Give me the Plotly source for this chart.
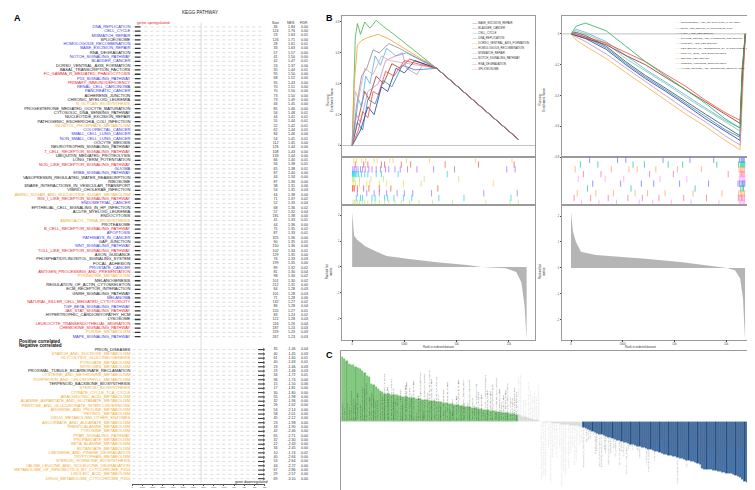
import plotly.graph_objects as go

W, H = 755, 490
FONT = "Liberation Sans, Arial, sans-serif"

# ---------------- panel A : KEGG pathways (GSEA table) ----------------
pos_pathways = [
    "DNA_REPLICATION", "CELL_CYCLE", "MISMATCH_REPAIR", "SPLICEOSOME",
    "HOMOLOGOUS_RECOMBINATION", "BASE_EXCISION_REPAIR", "RNA_DEGRADATION",
    "NOTCH_SIGNALING_PATHWAY", "BLADDER_CANCER", "DORSO_VENTRAL_AXIS_FORMATION",
    "BASAL_TRANSCRIPTION_FACTORS", "FC_GAMMA_R_MEDIATED_PHAGOCYTOSIS",
    "P53_SIGNALING_PATHWAY", "PRIMARY_IMMUNODEFICIENCY", "RENAL_CELL_CARCINOMA",
    "PANCREATIC_CANCER", "ADHERENS_JUNCTION", "CHRONIC_MYELOID_LEUKEMIA",
    "N_GLYCAN_BIOSYNTHESIS", "PROGESTERONE_MEDIATED_OOCYTE_MATURATION",
    "CYTOSOLIC_DNA_SENSING_PATHWAY", "NUCLEOTIDE_EXCISION_REPAIR",
    "PATHOGENIC_ESCHERICHIA_COLI_INFECTION", "INOSITOL_PHOSPHATE_METABOLISM",
    "COLORECTAL_CANCER", "SMALL_CELL_LUNG_CANCER", "NON_SMALL_CELL_LUNG_CANCER",
    "OOCYTE_MEIOSIS", "NEUROTROPHIN_SIGNALING_PATHWAY",
    "T_CELL_RECEPTOR_SIGNALING_PATHWAY", "UBIQUITIN_MEDIATED_PROTEOLYSIS",
    "LONG_TERM_POTENTIATION", "NOD_LIKE_RECEPTOR_SIGNALING_PATHWAY", "GLIOMA",
    "ERBB_SIGNALING_PATHWAY", "VASOPRESSIN_REGULATED_WATER_REABSORPTION",
    "RIBOSOME", "SNARE_INTERACTIONS_IN_VESICULAR_TRANSPORT",
    "VIBRIO_CHOLERAE_INFECTION", "AMINO_SUGAR_AND_NUCLEOTIDE_SUGAR_METABOLISM",
    "RIG_I_LIKE_RECEPTOR_SIGNALING_PATHWAY", "ENDOMETRIAL_CANCER",
    "EPITHELIAL_CELL_SIGNALING_IN_HP_INFECTION", "ACUTE_MYELOID_LEUKEMIA",
    "ENDOCYTOSIS", "AMINOACYL_TRNA_BIOSYNTHESIS", "PROTEASOME",
    "B_CELL_RECEPTOR_SIGNALING_PATHWAY", "APOPTOSIS", "PATHWAYS_IN_CANCER",
    "GAP_JUNCTION", "WNT_SIGNALING_PATHWAY", "TOLL_LIKE_RECEPTOR_SIGNALING_PATHWAY",
    "AXON_GUIDANCE", "PHOSPHATIDYLINOSITOL_SIGNALING_SYSTEM", "FOCAL_ADHESION",
    "PROSTATE_CANCER", "ANTIGEN_PROCESSING_AND_PRESENTATION",
    "PYRIMIDINE_METABOLISM", "MELANOGENESIS", "REGULATION_OF_ACTIN_CYTOSKELETON",
    "ECM_RECEPTOR_INTERACTION", "GNRH_SIGNALING_PATHWAY", "MELANOMA",
    "NATURAL_KILLER_CELL_MEDIATED_CYTOTOXICITY", "TGF_BETA_SIGNALING_PATHWAY",
    "JAK_STAT_SIGNALING_PATHWAY", "HYPERTROPHIC_CARDIOMYOPATHY_HCM", "LYSOSOME",
    "LEUKOCYTE_TRANSENDOTHELIAL_MIGRATION", "CHEMOKINE_SIGNALING_PATHWAY",
    "PURINE_METABOLISM", "MAPK_SIGNALING_PATHWAY",
]
pos_size = [36, 124, 23, 126, 28, 33, 57, 41, 42, 24, 35, 95, 68, 35, 70, 70, 73, 73,
            46, 85, 56, 44, 55, 52, 62, 84, 54, 112, 126, 108, 133, 66, 56, 65, 87,
            44, 87, 38, 54, 44, 71, 52, 68, 57, 181, 41, 44, 75, 87, 325, 90, 150,
            102, 129, 76, 199, 89, 81, 98, 101, 212, 84, 101, 71, 132, 86, 155, 83,
            121, 116, 187, 159, 267]
pos_nes = [1.84, 1.76, 1.63, 1.71, 1.61, 1.63, 1.57, 1.50, 1.47, 1.37, 1.44, 1.50,
           1.52, 1.43, 1.51, 1.50, 1.50, 1.49, 1.45, 1.46, 1.48, 1.41, 1.44, 1.42,
           1.44, 1.46, 1.41, 1.45, 1.44, 1.43, 1.44, 1.40, 1.38, 1.38, 1.40, 1.34,
           1.36, 1.31, 1.35, 1.38, 1.37, 1.33, 1.36, 1.32, 1.38, 1.33, 1.36, 1.35,
           1.33, 1.36, 1.35, 1.36, 1.34, 1.35, 1.33, 1.35, 1.32, 1.30, 1.30, 1.30,
           1.31, 1.28, 1.28, 1.28, 1.27, 1.28, 1.27, 1.24, 1.28, 1.26, 1.24, 1.23, 1.23]
pos_fdr = [0.00, 0.00, 0.01, 0.00, 0.01, 0.00, 0.00, 0.00, 0.01, 0.00, 0.01, 0.00,
           0.00, 0.00, 0.00, 0.00, 0.00, 0.00, 0.00, 0.00, 0.01, 0.01, 0.01, 0.01,
           0.01, 0.00, 0.01, 0.00, 0.00, 0.00, 0.00, 0.01, 0.01, 0.01, 0.00, 0.00,
           0.00, 0.06, 0.03, 0.00, 0.02, 0.04, 0.02, 0.04, 0.00, 0.01, 0.00, 0.02,
           0.01, 0.00, 0.01, 0.00, 0.01, 0.00, 0.03, 0.00, 0.02, 0.04, 0.02, 0.02,
           0.00, 0.03, 0.03, 0.06, 0.02, 0.04, 0.01, 0.02, 0.03, 0.04, 0.03, 0.03, 0.03]
# b = blue, k = black, r = red, o = orange label colour classes
pos_group = list("bbbkbbkbbk" "krbrbbkkok" "kkkobbbkkr" "kkrbbkkkko"
                 "rbkkkokrbb" "kbrkkkbrok" "kkkbrbrkkr" "rob")

neg_pathways = [
    "PRION_DISEASES", "STARCH_AND_SUCROSE_METABOLISM", "GLYCOLYSIS_GLUCONEOGENESIS",
    "PYRUVATE_METABOLISM", "NITROGEN_METABOLISM",
    "PROXIMAL_TUBULE_BICARBONATE_RECLAMATION", "CYSTEINE_AND_METHIONINE_METABOLISM",
    "PORPHYRIN_AND_CHLOROPHYLL_METABOLISM", "TERPENOID_BACKBONE_BIOSYNTHESIS",
    "STEROID_BIOSYNTHESIS", "CITRATE_CYCLE_TCA_CYCLE", "ARACHIDONIC_ACID_METABOLISM",
    "ALANINE_ASPARTATE_AND_GLUTAMATE_METABOLISM",
    "PENTOSE_AND_GLUCURONATE_INTERCONVERSIONS", "ARGININE_AND_PROLINE_METABOLISM",
    "RETINOL_METABOLISM", "DRUG_METABOLISM_OTHER_ENZYMES",
    "ASCORBATE_AND_ALDARATE_METABOLISM", "PHENYLALANINE_METABOLISM",
    "TYROSINE_METABOLISM", "PPAR_SIGNALING_PATHWAY", "PROPANOATE_METABOLISM",
    "BETA_ALANINE_METABOLISM", "BUTANOATE_METABOLISM",
    "LIMONENE_AND_PINENE_DEGRADATION", "TRYPTOPHAN_METABOLISM",
    "STEROID_HORMONE_BIOSYNTHESIS", "VALINE_LEUCINE_AND_ISOLEUCINE_DEGRADATION",
    "METABOLISM_OF_XENOBIOTICS_BY_CYTOCHROME_P450", "LINOLEIC_ACID_METABOLISM",
    "DRUG_METABOLISM_CYTOCHROME_P450",
]
neg_size = [35, 40, 61, 40, 23, 23, 34, 36, 15, 17, 30, 55, 32, 26, 54, 58, 45, 23,
            18, 42, 65, 32, 22, 34, 10, 40, 53, 44, 67, 29, 69]
neg_nes = [-1.46, -1.45, -1.60, -1.63, -1.46, -1.46, -1.72, -1.74, -1.50, -1.81,
           -1.80, -1.98, -1.96, -1.62, -2.14, -2.01, -2.12, -1.98, -1.90, -2.46,
           -2.71, -2.30, -2.43, -2.45, -1.74, -2.64, -2.64, -2.72, -2.86, -2.57, -3.10]
neg_fdr = [0.04, 0.03, 0.01, 0.01, 0.03, 0.03, 0.01, 0.00, 0.06, 0.00, 0.00, 0.00,
           0.00, 0.00, 0.00, 0.00, 0.00, 0.00, 0.00, 0.00, 0.00, 0.00, 0.00, 0.00,
           0.02, 0.00, 0.00, 0.00, 0.00, 0.00, 0.00]
neg_group = list("k" "oooo" "k" "oo" "k" "oooooooooooooooooooooo")

rank_ticks_a = list(range(0, 13001, 1000))

# ---------------- panel B : GSEA running scores ----------------
up_sets = ["BASE_EXCISION_REPAIR", "BLADDER_CANCER", "CELL_CYCLE", "DNA_REPLICATION",
           "DORSO_VENTRAL_AXIS_FORMATION", "HOMOLOGOUS_RECOMBINATION",
           "MISMATCH_REPAIR", "NOTCH_SIGNALING_PATHWAY", "RNA_DEGRADATION",
           "SPLICEOSOME"]
up_rank = {
    "BASE_EXCISION_REPAIR": [0, 700, 1200, 1600, 2300, 3000, 3800, 4600, 5500, 8090, 15900],
    "BLADDER_CANCER": [0, 500, 1000, 1500, 2200, 3000, 3800, 4800, 6000, 8090, 15900],
    "CELL_CYCLE": [0, 300, 600, 900, 1300, 1700, 2200, 2700, 3300, 4200, 5200, 8090, 15900],
    "DNA_REPLICATION": [0, 150, 300, 500, 800, 1200, 1700, 2300, 3000, 4000, 8090, 15900],
    "DORSO_VENTRAL_AXIS_FORMATION": [0, 200, 500, 900, 1500, 2500, 3500, 8090, 15900],
    "HOMOLOGOUS_RECOMBINATION": [0, 400, 800, 1500, 2500, 3200, 4800, 5200, 6200, 7000, 8090, 15900],
    "MISMATCH_REPAIR": [0, 300, 600, 1200, 2000, 2800, 3600, 8090, 15900],
    "NOTCH_SIGNALING_PATHWAY": [0, 800, 1500, 2100, 2800, 3400, 4200, 5000, 6000, 8090, 15900],
    "RNA_DEGRADATION": [0, 600, 1000, 1500, 2000, 2500, 3200, 4000, 5000, 8090, 15900],
    "SPLICEOSOME": [0, 400, 900, 1400, 2000, 2600, 3500, 4500, 8090, 15900],
}
up_es = {
    "BASE_EXCISION_REPAIR": [0, 0.20, 0.35, 0.30, 0.45, 0.40, 0.53, 0.50, 0.56, 0.50, 0.04],
    "BLADDER_CANCER": [0, 0.15, 0.10, 0.30, 0.27, 0.42, 0.38, 0.52, 0.49, 0.50, 0.04],
    "CELL_CYCLE": [0, 0.15, 0.30, 0.25, 0.45, 0.40, 0.58, 0.52, 0.63, 0.58, 0.60, 0.50, 0.04],
    "DNA_REPLICATION": [0, 0.30, 0.70, 0.79, 0.72, 0.80, 0.76, 0.81, 0.77, 0.72, 0.50, 0.04],
    "DORSO_VENTRAL_AXIS_FORMATION": [0, 0.40, 0.65, 0.68, 0.70, 0.72, 0.69, 0.50, 0.04],
    "HOMOLOGOUS_RECOMBINATION": [0, 0.20, 0.15, 0.35, 0.40, 0.55, 0.60, 0.50, 0.46, 0.55, 0.50, 0.04],
    "MISMATCH_REPAIR": [0, 0.35, 0.30, 0.50, 0.46, 0.58, 0.55, 0.50, 0.04],
    "NOTCH_SIGNALING_PATHWAY": [0, 0.10, 0.25, 0.20, 0.38, 0.35, 0.50, 0.47, 0.55, 0.50, 0.04],
    "RNA_DEGRADATION": [0, 0.10, 0.22, 0.18, 0.35, 0.33, 0.48, 0.45, 0.55, 0.50, 0.04],
    "SPLICEOSOME": [0, 0.25, 0.45, 0.50, 0.62, 0.60, 0.66, 0.63, 0.50, 0.04],
}
up_hits = {
    "BASE_EXCISION_REPAIR": [150, 420, 900, 1300, 2100, 2400, 3600, 3900, 5200, 7400, 11800, 15300],
    "BLADDER_CANCER": [300, 1100, 1500, 2800, 3100, 4700, 5600, 8900, 12100, 15500],
    "CELL_CYCLE": [60, 200, 380, 560, 800, 1000, 1250, 1600, 1900, 2300, 2700, 3200, 3500,
                   4100, 4600, 5300, 6200, 7800, 9800, 14800, 15600],
    "DNA_REPLICATION": [20, 60, 110, 170, 240, 330, 450, 600, 900, 1200, 1500, 2300, 2800, 4400, 9100],
    "DORSO_VENTRAL_AXIS_FORMATION": [40, 120, 260, 700, 1800, 3000, 6900, 10200],
    "HOMOLOGOUS_RECOMBINATION": [100, 300, 700, 1400, 1700, 2600, 3300, 4900, 6600, 13500],
    "MISMATCH_REPAIR": [30, 90, 230, 500, 1100, 1600, 2600, 3700, 8200],
    "NOTCH_SIGNALING_PATHWAY": [500, 1400, 2100, 2600, 3300, 4300, 5000, 5800, 7600, 12600, 15800],
    "RNA_DEGRADATION": [400, 800, 1000, 1900, 2200, 3100, 3400, 4000, 4900, 5700, 8300, 10700, 15200],
    "SPLICEOSOME": [80, 210, 350, 520, 700, 950, 1200, 1500, 1850, 2200, 2600, 3100, 3500,
                    4100, 4700, 5500, 6400, 7700, 9600, 12800, 15100, 15900],
}
up_metric_rank = [0, 190, 480, 1250, 2300, 3300, 5300, 8100, 11000, 12400, 14700, 15700, 16200, 16500, 16700]
up_metric_val = [2.1, 1.2, 1.05, 0.8, 0.6, 0.42, 0.32, 0.18, 0.07, 0.0, -0.05, -0.2, -0.6, -1.5, -2.8]

down_sets = ["COMPLEMENT_AND_COAGULATION_CASCADES", "DRUG_METABOLISM_CYTOCHROME_P450",
             "FATTY_ACID_METABOLISM", "GLYCINE_SERINE_AND_THREONINE_METABOLISM",
             "LINOLEIC_ACID_METABOLISM", "METABOLISM_OF_XENOBIOTICS_BY_CYTOCHROME_P450",
             "PRIMARY_BILE_ACID_BIOSYNTHESIS", "RETINOL_METABOLISM",
             "STEROID_HORMONE_BIOSYNTHESIS", "VALINE_LEUCINE_AND_ISOLEUCINE_DEGRADATION"]
down_rank = [0, 500, 1400, 3400, 5300, 7200, 9100, 11100, 13000, 14900, 16350, 16550, 16850]
down_es = {
    "COMPLEMENT_AND_COAGULATION_CASCADES": [0, 0.02, 0.0, -0.06, -0.16, -0.24, -0.32, -0.41, -0.49, -0.57, -0.63, -0.30, 0],
    "DRUG_METABOLISM_CYTOCHROME_P450": [0, -0.01, -0.03, -0.10, -0.20, -0.29, -0.37, -0.46, -0.55, -0.63, -0.69, -0.35, 0],
    "FATTY_ACID_METABOLISM": [0, 0.01, -0.01, -0.08, -0.18, -0.27, -0.35, -0.44, -0.52, -0.60, -0.66, -0.30, 0],
    "GLYCINE_SERINE_AND_THREONINE_METABOLISM": [0, 0.03, 0.01, -0.05, -0.14, -0.23, -0.31, -0.40, -0.48, -0.56, -0.61, -0.28, 0],
    "LINOLEIC_ACID_METABOLISM": [0, 0.0, -0.02, -0.09, -0.19, -0.28, -0.36, -0.45, -0.53, -0.62, -0.67, -0.32, 0],
    "METABOLISM_OF_XENOBIOTICS_BY_CYTOCHROME_P450": [0, -0.04, -0.08, -0.16, -0.25, -0.34, -0.43, -0.52, -0.60, -0.69, -0.75, -0.40, 0],
    "PRIMARY_BILE_ACID_BIOSYNTHESIS": [0, -0.02, -0.05, -0.13, -0.22, -0.31, -0.40, -0.49, -0.57, -0.66, -0.72, -0.36, 0],
    "RETINOL_METABOLISM": [0, -0.01, -0.03, -0.07, -0.14, -0.20, -0.28, -0.36, -0.44, -0.52, -0.58, -0.27, 0],
    "STEROID_HORMONE_BIOSYNTHESIS": [0, 0.0, -0.02, -0.06, -0.12, -0.18, -0.26, -0.34, -0.43, -0.51, -0.56, -0.25, 0],
    "VALINE_LEUCINE_AND_ISOLEUCINE_DEGRADATION": [0, 0.05, 0.07, 0.02, -0.08, -0.18, -0.27, -0.36, -0.45, -0.55, -0.61, -0.22, 0],
}
down_hits = {
    "COMPLEMENT_AND_COAGULATION_CASCADES": [1800, 4500, 5300, 8900, 11500, 13800, 16300, 16450, 16550, 16650, 16750],
    "DRUG_METABOLISM_CYTOCHROME_P450": [900, 2600, 6000, 7100, 9400, 10800, 14100, 16200, 16380, 16500, 16600, 16700, 16800],
    "FATTY_ACID_METABOLISM": [400, 3900, 5600, 6400, 8200, 10300, 12600, 16250, 16400, 16520, 16640, 16760],
    "GLYCINE_SERINE_AND_THREONINE_METABOLISM": [1200, 2900, 7600, 9900, 15200, 16350, 16500, 16620, 16740],
    "LINOLEIC_ACID_METABOLISM": [700, 3300, 5100, 8600, 11200, 16280, 16420, 16560, 16700, 16820],
    "METABOLISM_OF_XENOBIOTICS_BY_CYTOCHROME_P450": [2100, 4800, 6800, 8000, 10500, 13300, 16150, 16300, 16450, 16580, 16700, 16800],
    "PRIMARY_BILE_ACID_BIOSYNTHESIS": [1600, 5800, 12000, 16400, 16550, 16680],
    "RETINOL_METABOLISM": [600, 2400, 4100, 6200, 7400, 9100, 11800, 14600, 16220, 16370, 16500, 16640, 16780],
    "STEROID_HORMONE_BIOSYNTHESIS": [300, 1900, 3600, 5500, 6900, 8500, 10900, 13100, 16180, 16330, 16480, 16610, 16750],
    "VALINE_LEUCINE_AND_ISOLEUCINE_DEGRADATION": [1000, 2700, 4400, 6600, 7900, 9700, 11600, 14300, 16260, 16400, 16530, 16660, 16790],
}
down_metric_rank = [0, 190, 480, 960, 2400, 4130, 7200, 10580, 13000, 15100, 15870, 16350, 16630, 16830]
down_metric_val = [2.15, 1.4, 1.0, 0.62, 0.5, 0.45, 0.35, 0.23, 0.12, 0.0, -0.1, -0.4, -1.2, -2.8]

# ---------------- panel C : pathway score bars ----------------
other_pathways = [
    "PENTOSE_PHOSPHATE_PATHWAY", "FRUCTOSE_AND_MANNOSE_METABOLISM", "GALACTOSE_METABOLISM",
    "FATTY_ACID_METABOLISM", "PRIMARY_BILE_ACID_BIOSYNTHESIS", "OXIDATIVE_PHOSPHORYLATION",
    "GLYCINE_SERINE_AND_THREONINE_METABOLISM", "VALINE_LEUCINE_AND_ISOLEUCINE_BIOSYNTHESIS",
    "LYSINE_DEGRADATION", "HISTIDINE_METABOLISM", "TAURINE_AND_HYPOTAURINE_METABOLISM",
    "SELENOAMINO_ACID_METABOLISM", "GLUTATHIONE_METABOLISM", "OTHER_GLYCAN_DEGRADATION",
    "O_GLYCAN_BIOSYNTHESIS", "GLYCOSAMINOGLYCAN_DEGRADATION",
    "GLYCOSAMINOGLYCAN_BIOSYNTHESIS_CHONDROITIN_SULFATE",
    "GLYCOSAMINOGLYCAN_BIOSYNTHESIS_KERATAN_SULFATE",
    "GLYCOSAMINOGLYCAN_BIOSYNTHESIS_HEPARAN_SULFATE", "GLYCEROLIPID_METABOLISM",
    "GLYCOSYLPHOSPHATIDYLINOSITOL_GPI_ANCHOR_BIOSYNTHESIS", "GLYCEROPHOSPHOLIPID_METABOLISM",
    "ETHER_LIPID_METABOLISM", "ALPHA_LINOLENIC_ACID_METABOLISM", "SPHINGOLIPID_METABOLISM",
    "GLYCOSPHINGOLIPID_BIOSYNTHESIS_LACTO_AND_NEOLACTO_SERIES",
    "GLYCOSPHINGOLIPID_BIOSYNTHESIS_GLOBO_SERIES",
    "GLYCOSPHINGOLIPID_BIOSYNTHESIS_GANGLIO_SERIES",
    "GLYOXYLATE_AND_DICARBOXYLATE_METABOLISM", "ONE_CARBON_POOL_BY_FOLATE",
    "RIBOFLAVIN_METABOLISM", "NICOTINATE_AND_NICOTINAMIDE_METABOLISM",
    "PANTOTHENATE_AND_COA_BIOSYNTHESIS", "FOLATE_BIOSYNTHESIS", "SULFUR_METABOLISM",
    "BIOSYNTHESIS_OF_UNSATURATED_FATTY_ACIDS", "ABC_TRANSPORTERS", "RNA_POLYMERASE",
    "PROTEIN_EXPORT", "PEROXISOME", "NON_HOMOLOGOUS_END_JOINING",
    "CALCIUM_SIGNALING_PATHWAY", "CYTOKINE_CYTOKINE_RECEPTOR_INTERACTION",
    "NEUROACTIVE_LIGAND_RECEPTOR_INTERACTION", "REGULATION_OF_AUTOPHAGY",
    "CARDIAC_MUSCLE_CONTRACTION", "VASCULAR_SMOOTH_MUSCLE_CONTRACTION",
    "HEDGEHOG_SIGNALING_PATHWAY", "VEGF_SIGNALING_PATHWAY", "CELL_ADHESION_MOLECULES_CAMS",
    "TIGHT_JUNCTION", "COMPLEMENT_AND_COAGULATION_CASCADES", "HEMATOPOIETIC_CELL_LINEAGE",
    "FC_EPSILON_RI_SIGNALING_PATHWAY", "INTESTINAL_IMMUNE_NETWORK_FOR_IGA_PRODUCTION",
    "CIRCADIAN_RHYTHM_MAMMAL", "LONG_TERM_DEPRESSION", "OLFACTORY_TRANSDUCTION",
    "TASTE_TRANSDUCTION", "INSULIN_SIGNALING_PATHWAY", "ADIPOCYTOKINE_SIGNALING_PATHWAY",
    "TYPE_II_DIABETES_MELLITUS", "TYPE_I_DIABETES_MELLITUS",
    "MATURITY_ONSET_DIABETES_OF_THE_YOUNG", "ALDOSTERONE_REGULATED_SODIUM_REABSORPTION",
    "ALZHEIMERS_DISEASE", "PARKINSONS_DISEASE", "AMYOTROPHIC_LATERAL_SCLEROSIS_ALS",
    "HUNTINGTONS_DISEASE", "LEISHMANIA_INFECTION", "THYROID_CANCER", "BASAL_CELL_CARCINOMA",
    "ASTHMA", "AUTOIMMUNE_THYROID_DISEASE", "SYSTEMIC_LUPUS_ERYTHEMATOSUS",
    "ALLOGRAFT_REJECTION", "GRAFT_VERSUS_HOST_DISEASE",
    "ARRHYTHMOGENIC_RIGHT_VENTRICULAR_CARDIOMYOPATHY_ARVC", "DILATED_CARDIOMYOPATHY",
    "VIRAL_MYOCARDITIS", "CAFFEINE_METABOLISM", "D_GLUTAMINE_AND_D_GLUTAMATE_METABOLISM",
]
c_values = [
    13.0, 12.6, 12.1, 11.6,
    11.4, 11.3, 11.0, 10.8, 10.5, 10.1, 9.8,
    9.1, 8.9,
    7.5, 7.3, 7.0, 6.6, 6.2, 5.9,
    5.6, 5.5, 5.5, 5.4, 5.3, 5.3, 5.2, 5.1, 5.0, 5.0, 4.9, 4.8, 4.7, 4.7,
    4.6, 4.5, 4.5, 4.4, 4.3, 4.3, 4.2, 4.1, 4.1, 4.0, 3.9, 3.9, 3.8, 3.7, 3.7, 3.6,
    3.5, 3.4, 3.4, 3.3, 3.2, 3.1, 3.0, 3.0, 2.9, 2.8, 2.7, 2.7, 2.6, 2.5, 2.4,
    2.4, 2.3, 2.2, 2.2, 2.1, 2.0, 2.0, 1.9, 1.8, 1.8, 1.7, 1.6, 1.6, 1.5, 1.4,
    1.3, 1.2, 1.0, 0.9, 0.8, 0.6, 0.5, 0.4, 0.3, 0.2,
    -0.1, -0.2, -0.2, -0.3, -0.3, -0.4, -0.4, -0.5, -0.5, -0.6, -0.6, -0.7, -0.7,
    -0.8, -0.8, -0.9, -0.9, -1.0, -1.0,
    -1.2, -1.5, -1.7, -1.9, -2.1, -2.3, -2.4, -2.6,
    -2.7, -2.9, -3.0, -3.2, -3.3, -3.5, -3.6,
    -3.8, -3.9, -4.0, -4.2, -4.3, -4.5, -4.6,
    -4.7, -4.8, -5.0, -5.1, -5.2, -5.3, -5.5, -5.6,
    -5.7, -5.9, -6.0, -6.1, -6.3, -6.4, -6.6,
    -6.7, -6.8, -6.9, -7.0, -7.1, -7.3, -7.4,
    -7.5, -7.6, -7.8, -7.9, -8.0, -8.1, -8.3, -8.4,
    -8.6, -9.4, -9.6, -9.6, -9.7, -9.7, -9.8,
    -9.9, -10.0, -10.1, -10.2, -10.3, -10.4, -10.5, -10.6,
    -10.8, -11.0, -11.2, -11.4, -11.8, -12.1, -12.4,
    -12.7, -13.1, -13.4, -13.8,
]
c_ticks = [-10, -5, 0, 5, 10]


# ---------------- helpers ----------------
def px(x):
    return x / W


def py(y):
    return 1 - y / H


group_color = {"b": "#3a3ad8", "k": "#1a1a1a", "r": "#e3262b", "o": "#f0aa35"}
up_colors = ["#a93226", "#2e86c1", "#5dade2", "#4daf4a", "#f0a030",
             "#bb8fce", "#d5a6bd", "#1f3a93", "#e74c3c", "#8c8c8c"]
down_colors = ["#82c99a", "#1f3a93", "#34495e", "#5dade2", "#2e86c1",
               "#f5b041", "#bb8fce", "#922b21", "#e74c3c", "#27ae60"]

fig = go.Figure()
ann = []
shapes = []

# ---------- A ----------
pos_rows = list(range(len(pos_pathways)))
neg_rows = [75 + j for j in range(len(neg_pathways))]
rows = pos_rows + neg_rows
names = pos_pathways + neg_pathways
groups = pos_group + neg_group

dx, dy = [], []
for r in rows:
    dx += [0, 13000, None]
    dy += [r, r, None]
fig.add_trace(go.Scatter(x=dx, y=dy, mode="lines", xaxis="x", yaxis="y",
                         line=dict(color="#cfcfcf", width=0.7, dash="dot"), hoverinfo="skip"))
lx, ly = [], []
for r in pos_rows:
    lx += [250, 800, None]
    ly += [r, r, None]
fig.add_trace(go.Scatter(x=lx, y=ly, mode="lines", xaxis="x", yaxis="y",
                         line=dict(color="#333333", width=1.3), hoverinfo="skip"))
nx, ny = [], []
for r in neg_rows:
    nx += [12350, 12900, None]
    ny += [r, r, None]
fig.add_trace(go.Scatter(x=nx, y=ny, mode="lines", xaxis="x", yaxis="y",
                         line=dict(color="#333333", width=1.0), hoverinfo="skip"))
fig.add_trace(go.Scatter(x=[12950] * len(neg_rows), y=neg_rows, mode="markers",
                         xaxis="x", yaxis="y", hoverinfo="skip",
                         marker=dict(symbol="triangle-right", size=3, color="#333333")))
shapes.append(dict(type="line", xref="x", yref="y", x0=6750, x1=6750, y0=-1, y1=106,
                   line=dict(color="#d0d0d0", width=0.7)))

fig.add_trace(go.Scatter(x=[122] * len(names), y=rows, mode="text", text=names,
                         xaxis="x2", yaxis="y", textposition="middle left", hoverinfo="skip",
                         textfont=dict(size=4.1, family=FONT,
                                       color=[group_color[g] for g in groups])))
sizes = pos_size + neg_size
nes = pos_nes + neg_nes
fdr = pos_fdr + neg_fdr
for xcol, vals in [(268, [str(s) for s in sizes]),
                   (284, [f"{v:.2f}" for v in nes]),
                   (297, [f"{v:.2f}" for v in fdr])]:
    fig.add_trace(go.Scatter(x=[xcol] * len(vals), y=rows, mode="text", text=vals,
                             xaxis="x3", yaxis="y", textposition="middle center",
                             hoverinfo="skip",
                             textfont=dict(size=3.6, family=FONT, color="#333333")))

ann += [
    dict(text="<b>A</b>", x=px(3), y=py(3), xanchor="left", yanchor="top",
         font=dict(size=9, color="#000")),
    dict(text="KEGG PATHWAY", x=px(192), y=py(5), xanchor="center", yanchor="middle",
         font=dict(size=4.6, color="#222")),
    dict(text="gene upregulated", x=px(127), y=py(15), xanchor="left", yanchor="middle",
         font=dict(size=4.2, color="#e3262b")),
    dict(text="gene downregulated", x=px(262), y=py(476), xanchor="right", yanchor="middle",
         font=dict(size=3.6, color="#222")),
    dict(text="Size", x=px(268), y=py(15), xanchor="center", yanchor="middle",
         font=dict(size=3.6, color="#333")),
    dict(text="NES", x=px(284), y=py(15), xanchor="center", yanchor="middle",
         font=dict(size=3.6, color="#333")),
    dict(text="FDR", x=px(297), y=py(15), xanchor="center", yanchor="middle",
         font=dict(size=3.6, color="#333")),
    dict(text="<b>Positive correlated</b>", x=px(8), xref="paper", y=73.1, yref="y",
         xanchor="left", yanchor="middle", font=dict(size=4.6, color="#111")),
    dict(text="<b>Negative correlated</b>", x=px(8), xref="paper", y=74.1, yref="y",
         xanchor="left", yanchor="middle", font=dict(size=4.6, color="#111")),
]

# ---------- B ----------
box = dict(showline=True, mirror=True, linecolor="#9a9a9a", linewidth=0.6,
           showgrid=False, zeroline=False)
tickf = dict(size=2.6, color="#444", family=FONT)

for k, s in enumerate(up_sets):
    fig.add_trace(go.Scatter(x=up_rank[s], y=up_es[s], mode="lines", xaxis="x4", yaxis="y4",
                             line=dict(color=up_colors[k], width=0.8), hoverinfo="skip"))
    fig.add_trace(go.Scatter(x=up_hits[s], y=[k + 0.5] * len(up_hits[s]), mode="markers",
                             xaxis="x5", yaxis="y5", hoverinfo="skip",
                             marker=dict(symbol="line-ns-open", size=4.5,
                                         line=dict(color=up_colors[k], width=0.7))))
fig.add_trace(go.Scatter(x=up_metric_rank, y=up_metric_val, mode="lines", fill="tozeroy",
                         xaxis="x6", yaxis="y6", fillcolor="#b5b5b5",
                         line=dict(width=0, color="#b5b5b5"), hoverinfo="skip"))

for k, s in enumerate(down_sets):
    fig.add_trace(go.Scatter(x=down_rank, y=down_es[s], mode="lines", xaxis="x7", yaxis="y7",
                             line=dict(color=down_colors[k], width=0.8), hoverinfo="skip"))
    fig.add_trace(go.Scatter(x=down_hits[s], y=[k + 0.5] * len(down_hits[s]), mode="markers",
                             xaxis="x8", yaxis="y8", hoverinfo="skip",
                             marker=dict(symbol="line-ns-open", size=4.5,
                                         line=dict(color=down_colors[k], width=0.7))))
fig.add_trace(go.Scatter(x=down_metric_rank, y=down_metric_val, mode="lines", fill="tozeroy",
                         xaxis="x9", yaxis="y9", fillcolor="#b5b5b5",
                         line=dict(width=0, color="#b5b5b5"), hoverinfo="skip"))

shapes.append(dict(type="line", xref="x4 domain", yref="y4", x0=0, x1=1, y0=0, y1=0,
                   line=dict(color="#9a9a9a", width=0.6)))
shapes.append(dict(type="line", xref="x7 domain", yref="y7", x0=0, x1=1, y0=0, y1=0,
                   line=dict(color="#9a9a9a", width=0.6)))

for k, s in enumerate(up_sets):
    ann.append(dict(text=f"<span style='color:{up_colors[k]}'>——</span> {s}",
                    x=px(463), y=py(15 + 5.1 * k), xanchor="left", yanchor="middle",
                    font=dict(size=2.8, color="#333")))
for k, s in enumerate(down_sets):
    ann.append(dict(text=f"<span style='color:{down_colors[k]}'>——</span> {s}",
                    x=px(668), y=py(15 + 5.1 * k), xanchor="left", yanchor="middle",
                    font=dict(size=2.5, color="#333")))

ann += [
    dict(text="<b>B</b>", x=px(317), y=py(3), xanchor="left", yanchor="top",
         font=dict(size=9, color="#000")),
    dict(text="Running<br>Enrichment Score", x=px(322), y=py(78), textangle=-90,
         font=dict(size=3, color="#333")),
    dict(text="Ranked list<br>metric", x=px(322), y=py(265), textangle=-90,
         font=dict(size=3, color="#333")),
    dict(text="Running<br>Enrichment Score", x=px(542), y=py(78), textangle=-90,
         font=dict(size=3, color="#333")),
    dict(text="Ranked list<br>metric", x=px(542), y=py(265), textangle=-90,
         font=dict(size=3, color="#333")),
    dict(text="Rank in ordered dataset", x=px(432), y=py(340.5), yanchor="middle",
         font=dict(size=2.9, color="#333")),
    dict(text="Rank in ordered dataset", x=px(652), y=py(340.5), yanchor="middle",
         font=dict(size=2.9, color="#333")),
]

# ---------- C ----------
c_names = pos_pathways + other_pathways + neg_pathways
c_idx = list(range(len(c_values)))
c_col = []
for v in c_values:
    if v > 1.35:
        c_col.append("#66bb63")
    elif v < -1.05:
        c_col.append("#1c4f8e")
    else:
        c_col.append("#d9d9d9")
fig.add_trace(go.Bar(x=c_idx, y=c_values, xaxis="x10", yaxis="y10", width=1.0,
                     marker=dict(color=c_col, line=dict(color="white", width=0.25)),
                     hoverinfo="skip"))
for i, (name, v) in enumerate(zip(c_names, c_values)):
    if v > 1.35:
        tcol = "#2a2a2a"
    elif v < -1.05:
        tcol = "#666666"
    else:
        tcol = "#c4c4c4"
    ann.append(dict(text=name, x=i, y=0, xref="x10", yref="y10", textangle=-90,
                    xanchor="center", yanchor="bottom" if v > 0 else "top",
                    borderpad=0, font=dict(size=1.8, color=tcol)))
ann += [
    dict(text="<b>C</b>", x=px(317), y=py(341), xanchor="left", yanchor="top",
         font=dict(size=9, color="#000")),
    dict(text="t value", x=px(754), y=py(405), textangle=-90, xanchor="right",
         font=dict(size=2.4, color="#333")),
]

for a in ann:
    a.setdefault("xref", "paper")
    a.setdefault("yref", "paper")
    a.setdefault("showarrow", False)
    f = a.setdefault("font", {})
    f.setdefault("family", FONT)

fig.update_layout(
    width=W, height=H, margin=dict(l=0, r=0, t=0, b=0),
    paper_bgcolor="white", plot_bgcolor="white", showlegend=False,
    font=dict(family=FONT),
    annotations=ann, shapes=shapes,
    # A
    xaxis=dict(domain=[px(124), px(257)], range=[0, 13000], anchor="y",
               showline=True, linecolor="#555", linewidth=0.5, ticks="outside",
               ticklen=1, tickwidth=0.5, tickcolor="#555", tickvals=rank_ticks_a,
               tickfont=dict(size=2.2, color="#444", family=FONT),
               showgrid=False, zeroline=False),
    yaxis=dict(domain=[py(478), py(12)], range=[106.25, -1.62], visible=False),
    xaxis2=dict(domain=[0, px(124)], range=[0, 124], anchor="y", visible=False),
    xaxis3=dict(domain=[px(258), px(312)], range=[258, 312], anchor="y", visible=False),
    # B left
    xaxis4=dict(domain=[px(335), px(529)], range=[-952, 17520], anchor="y4",
                showticklabels=False, **box),
    yaxis4=dict(domain=[py(150), py(8)], range=[-0.077, 0.839], anchor="x4",
                tickvals=[0, 0.2, 0.4, 0.6, 0.8], ticks="outside", ticklen=1.5,
                tickfont=tickf, **box),
    xaxis5=dict(domain=[px(335), px(529)], range=[-952, 17520], anchor="y5",
                showticklabels=False, **box),
    yaxis5=dict(domain=[py(198), py(150)], range=[10, 0], anchor="x5",
                showticklabels=False, **box),
    xaxis6=dict(domain=[px(335), px(529)], range=[-952, 17520], anchor="y6",
                tickvals=[0, 5000, 10000, 15000], ticks="outside", ticklen=1.2,
                tickfont=tickf, **box),
    yaxis6=dict(domain=[py(333), py(198)], range=[-2.81, 2.385], anchor="x6",
                tickvals=[-2, -1, 0, 1, 2], ticks="outside", ticklen=1.5,
                tickfont=tickf, **box),
    # B right
    xaxis7=dict(domain=[px(556), px(748)], range=[-865, 17600], anchor="y7",
                showticklabels=False, **box),
    yaxis7=dict(domain=[py(150), py(8)], range=[-0.8, 0.116], anchor="x7",
                tickvals=[-0.8, -0.6, -0.4, -0.2, 0], ticks="outside", ticklen=1.5,
                tickfont=tickf, **box),
    xaxis8=dict(domain=[px(556), px(748)], range=[-865, 17600], anchor="y8",
                showticklabels=False, **box),
    yaxis8=dict(domain=[py(198), py(150)], range=[10, 0], anchor="x8",
                showticklabels=False, **box),
    xaxis9=dict(domain=[px(556), px(748)], range=[-865, 17600], anchor="y9",
                tickvals=[0, 5000, 10000, 15000], ticks="outside", ticklen=1.2,
                tickfont=tickf, **box),
    yaxis9=dict(domain=[py(333), py(198)], range=[-2.77, 2.42], anchor="x9",
                tickvals=[-2, -1, 0, 1, 2], ticks="outside", ticklen=1.5,
                tickfont=tickf, **box),
    # C
    xaxis10=dict(domain=[px(334), px(752)], range=[-0.5, len(c_values) - 0.5],
                 anchor="y10", showticklabels=False, **box),
    yaxis10=dict(domain=[py(488), py(344)], range=[-14.6, 14.2], anchor="x10",
                 side="right", tickvals=c_ticks, ticks="outside", ticklen=1.5,
                 showticklabels=False, **box),
    bargap=0,
)

fig.write_html("out.html")
